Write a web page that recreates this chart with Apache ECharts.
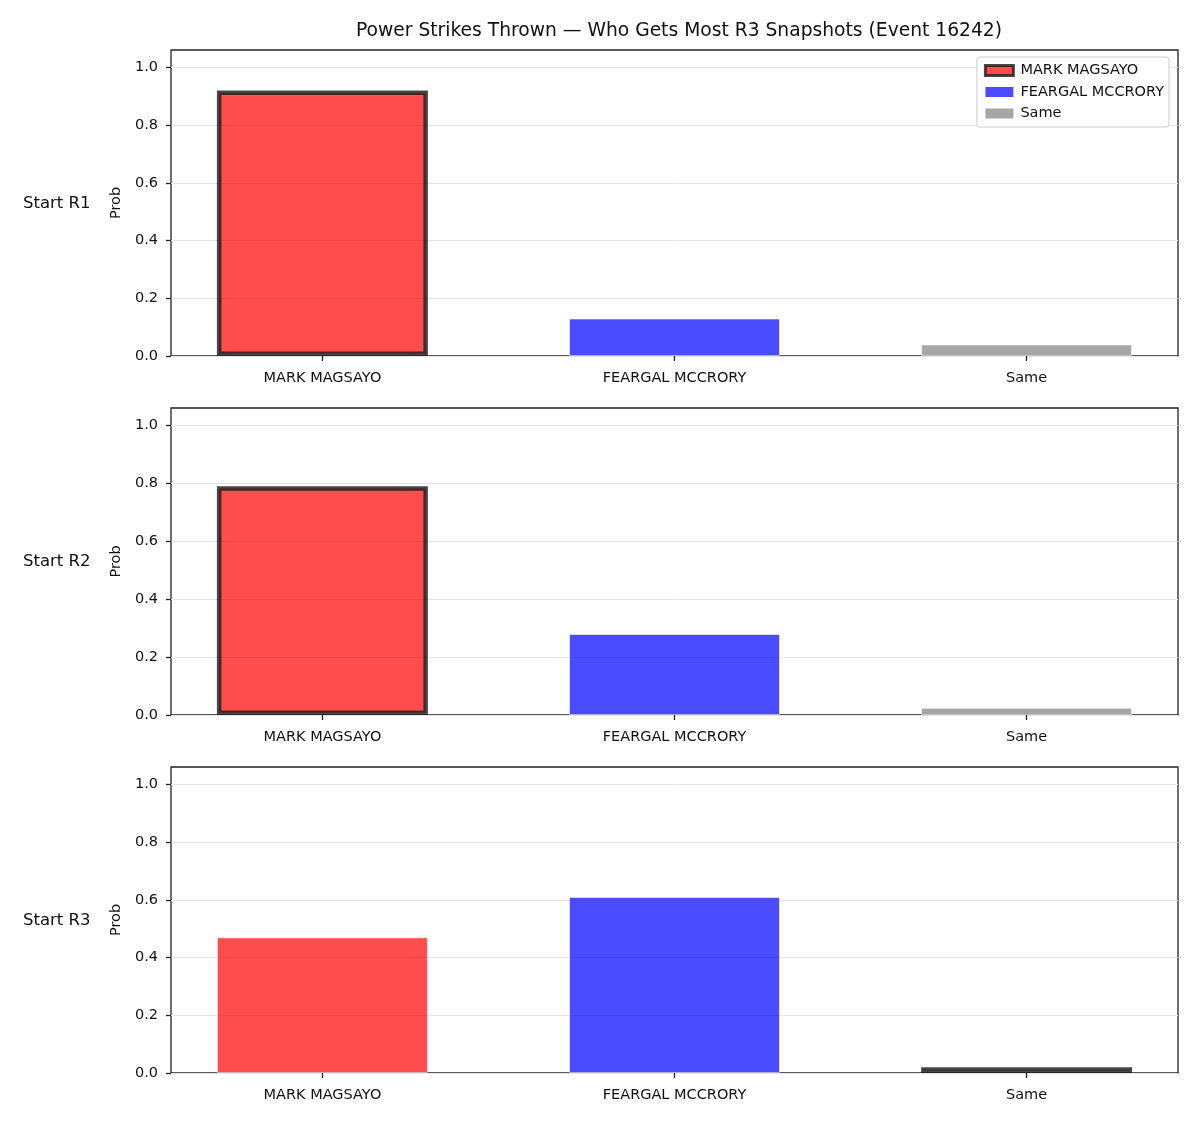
<!DOCTYPE html>
<html>
<head>
<meta charset="utf-8">
<script src="https://cdn.jsdelivr.net/npm/echarts@6/dist/echarts.min.js"></script>
<style>
body { margin: 0; background: #fff; }
#chart { width: 1200px; height: 1125px; }
</style>
</head>
<body>
<div id="chart"></div>
<script>
// fighters and outcome categories
const categories = ['MARK MAGSAYO', 'FEARGAL MCCRORY', 'Same'];
const rowLabels = ['Start R1', 'Start R2', 'Start R3'];
// probability per starting round
const probR1 = [0.92, 0.13, 0.04];
const probR2 = [0.79, 0.28, 0.025];
const probR3 = [0.47, 0.61, 0.02];
// which bar gets the dark outline in each row
const highlightIdx = [0, 0, 2];
const yTicks = [0, 0.2, 0.4, 0.6, 0.8, 1.0];

const rows = [probR1, probR2, probR3];
const colors = ['rgba(255,0,0,0.7)', 'rgba(0,0,255,0.7)', 'rgba(128,128,128,0.7)'];
const tops = [50, 408, 767];
const heights = [306, 307, 306];
const font = 'DejaVu Sans';

let chart = echarts.init(document.getElementById('chart'));

let grids = [], xAxes = [], yAxes = [], series = [], graphics = [];
rows.forEach(function (vals, r) {
    grids.push({
        left: 171, right: 22, top: tops[r], height: heights[r],
        show: true, borderColor: '#222', borderWidth: 1.3, backgroundColor: 'transparent'
    });
    xAxes.push({
        type: 'value', gridIndex: r, min: -0.43, max: 2.43,
        axisLine: { show: false, onZero: false },
        splitLine: { show: false },
        axisTick: { show: true, customValues: [0, 1, 2], length: 5, lineStyle: { color: '#222', width: 1.3 } },
        axisLabel: {
            customValues: [0, 1, 2], color: '#111', fontFamily: font, fontSize: 14.5, margin: 15,
            formatter: function (v) { return categories[Math.round(v)]; }
        }
    });
    yAxes.push({
        type: 'value', gridIndex: r, min: 0, max: 1.06,
        name: 'Prob', nameLocation: 'middle', nameGap: 46, nameRotate: 90,
        nameTextStyle: { color: '#111', fontFamily: font, fontSize: 14.5 },
        axisLine: { show: false, onZero: false },
        axisTick: { show: true, customValues: yTicks, length: 5, lineStyle: { color: '#222', width: 1.3 } },
        axisLabel: {
            customValues: yTicks, color: '#111', fontFamily: font, fontSize: 14.5, margin: 13,
            formatter: function (v) { return v.toFixed(1); }
        },
        splitLine: { show: true, lineStyle: { color: '#e5e5e5', width: 1 } }
    });
    vals.forEach(function (v, i) {
        let hi = highlightIdx[r] === i;
        series.push({
            name: categories[i],
            type: 'bar',
            xAxisIndex: r, yAxisIndex: r,
            barWidth: 211, barGap: '-100%',
            data: [[i, v]],
            itemStyle: {
                color: colors[i],
                borderColor: hi ? 'rgba(25,25,25,0.8)' : 'rgba(255,255,255,0.6)',
                borderWidth: hi ? 4.5 : 1
            },
            emphasis: { disabled: true },
            z: 3
        });
    });
    graphics.push({
        type: 'text', left: 23, top: tops[r] + heights[r] / 2 - 8,
        style: { text: rowLabels[r], fill: '#111', font: '16.5px "DejaVu Sans"' }
    });
});

chart.setOption({
    animation: false,
    title: {
        text: 'Power Strikes Thrown — Who Gets Most R3 Snapshots (Event 16242)',
        left: 674, top: 17, textAlign: 'center',
        textStyle: { color: '#111', fontFamily: font, fontSize: 18.7, fontWeight: 'normal' }
    },
    legend: {
        right: 31, top: 57, orient: 'vertical',
        backgroundColor: '#fff', borderColor: '#ccc', borderWidth: 1, borderRadius: 3,
        padding: [6, 5, 6, 7], itemGap: 6.5,
        itemWidth: 28, itemHeight: 10, icon: 'rect',
        textStyle: { color: '#111', fontFamily: font, fontSize: 14.5, padding: [0, 0, 0, 2] },
        data: [
            { name: categories[0], itemStyle: { color: colors[0], borderColor: 'rgba(25,25,25,0.8)', borderWidth: 3 } },
            { name: categories[1], itemStyle: { color: colors[1], borderWidth: 0 } },
            { name: categories[2], itemStyle: { color: colors[2], borderWidth: 0 } }
        ]
    },
    grid: grids,
    xAxis: xAxes,
    yAxis: yAxes,
    series: series,
    graphic: graphics
});
</script>
</body>
</html>
